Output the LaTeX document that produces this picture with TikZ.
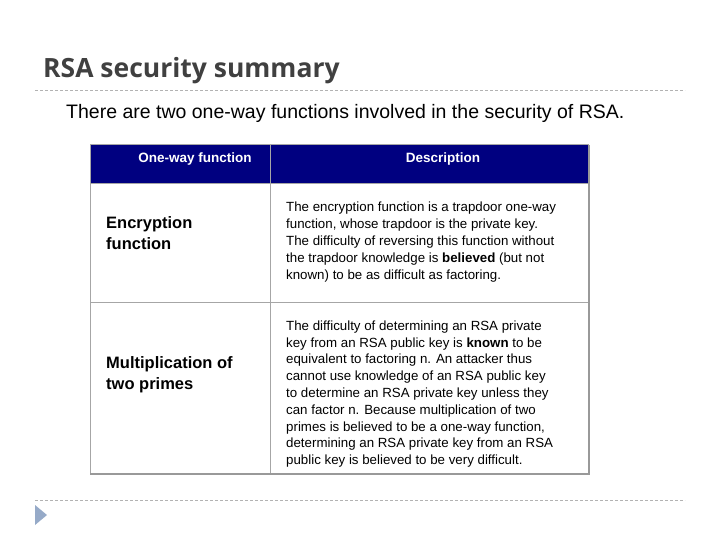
\documentclass[tikz,border=0pt]{standalone}
\usepackage{fontspec}
\setmainfont{Liberation Sans}
\newfontfamily\titlefont{Open Sans}
\begin{document}
\begin{tikzpicture}[x=1pt,y=-1pt,
  dashline/.style={draw=gray!60,dash pattern=on 3pt off 2pt,line width=0.6pt},
  cell/.style={draw=gray!70,line width=0.8pt},
  hdr/.style={font=\fontsize{13.5}{15}\selectfont\bfseries,text=white,anchor=north},
  body/.style={font=\fontsize{13.3}{16.8}\selectfont,align=left,anchor=west,inner sep=0pt},
  lbl/.style={font=\fontsize{16.5}{21}\selectfont\bfseries,align=left,anchor=west,inner sep=0pt}]
\useasboundingbox (0,0) rectangle (720,540);
\node[anchor=base west,inner sep=0pt,text=black!75,font=\titlefont\bfseries\fontsize{26.5}{30}\selectfont] (title) at (43,78) {RSA security summary};
\draw[dashline] (35,90) -- (685,90);
\node[anchor=base west,inner sep=0pt,font=\fontsize{19.5}{22}\selectfont] (sub) at (66,119) {There are two one-way functions involved in the security of RSA.};
\fill[fill={rgb,255:red,0;green,0;blue,128}] (90,144) rectangle (588,183);
\draw[cell] (90,144) rectangle (588,473);
\draw[cell] (270,144) -- (270,473);
\draw[cell] (90,183) -- (588,183);
\draw[cell] (90,302) -- (588,302);
\draw[gray!80,line width=1.5pt] (90,474) -- (589,474) -- (589,145);
\node[hdr] (h1) at (195,149) {One-way function};
\node[hdr] (h2) at (443,149) {Description};
\node[lbl] (l1) at (106,233) {Encryption\\function};
\node[lbl] (l2) at (106,375) {Multiplication of\\two primes};
\node[body] (d1) at (286,242) {The encryption function is a trapdoor one-way\\function, whose trapdoor is the private key.\\The difficulty of reversing this function without\\the trapdoor knowledge is \textbf{believed} (but not\\known) to be as difficult as factoring.};
\node[body] (d2) at (286,394) {The difficulty of determining an RSA private\\key from an RSA public key is \textbf{known} to be\\equivalent to factoring n. An attacker thus\\cannot use knowledge of an RSA public key\\to determine an RSA private key unless they\\can factor n. Because multiplication of two\\primes is believed to be a one-way function,\\determining an RSA private key from an RSA\\public key is believed to be very difficult.};
\draw[dashline] (35,500) -- (685,500);
\fill[fill={rgb,255:red,150;green,170;blue,200}] (35,505) -- (47,515) -- (35,525) -- cycle;
\end{tikzpicture}
\end{document}
